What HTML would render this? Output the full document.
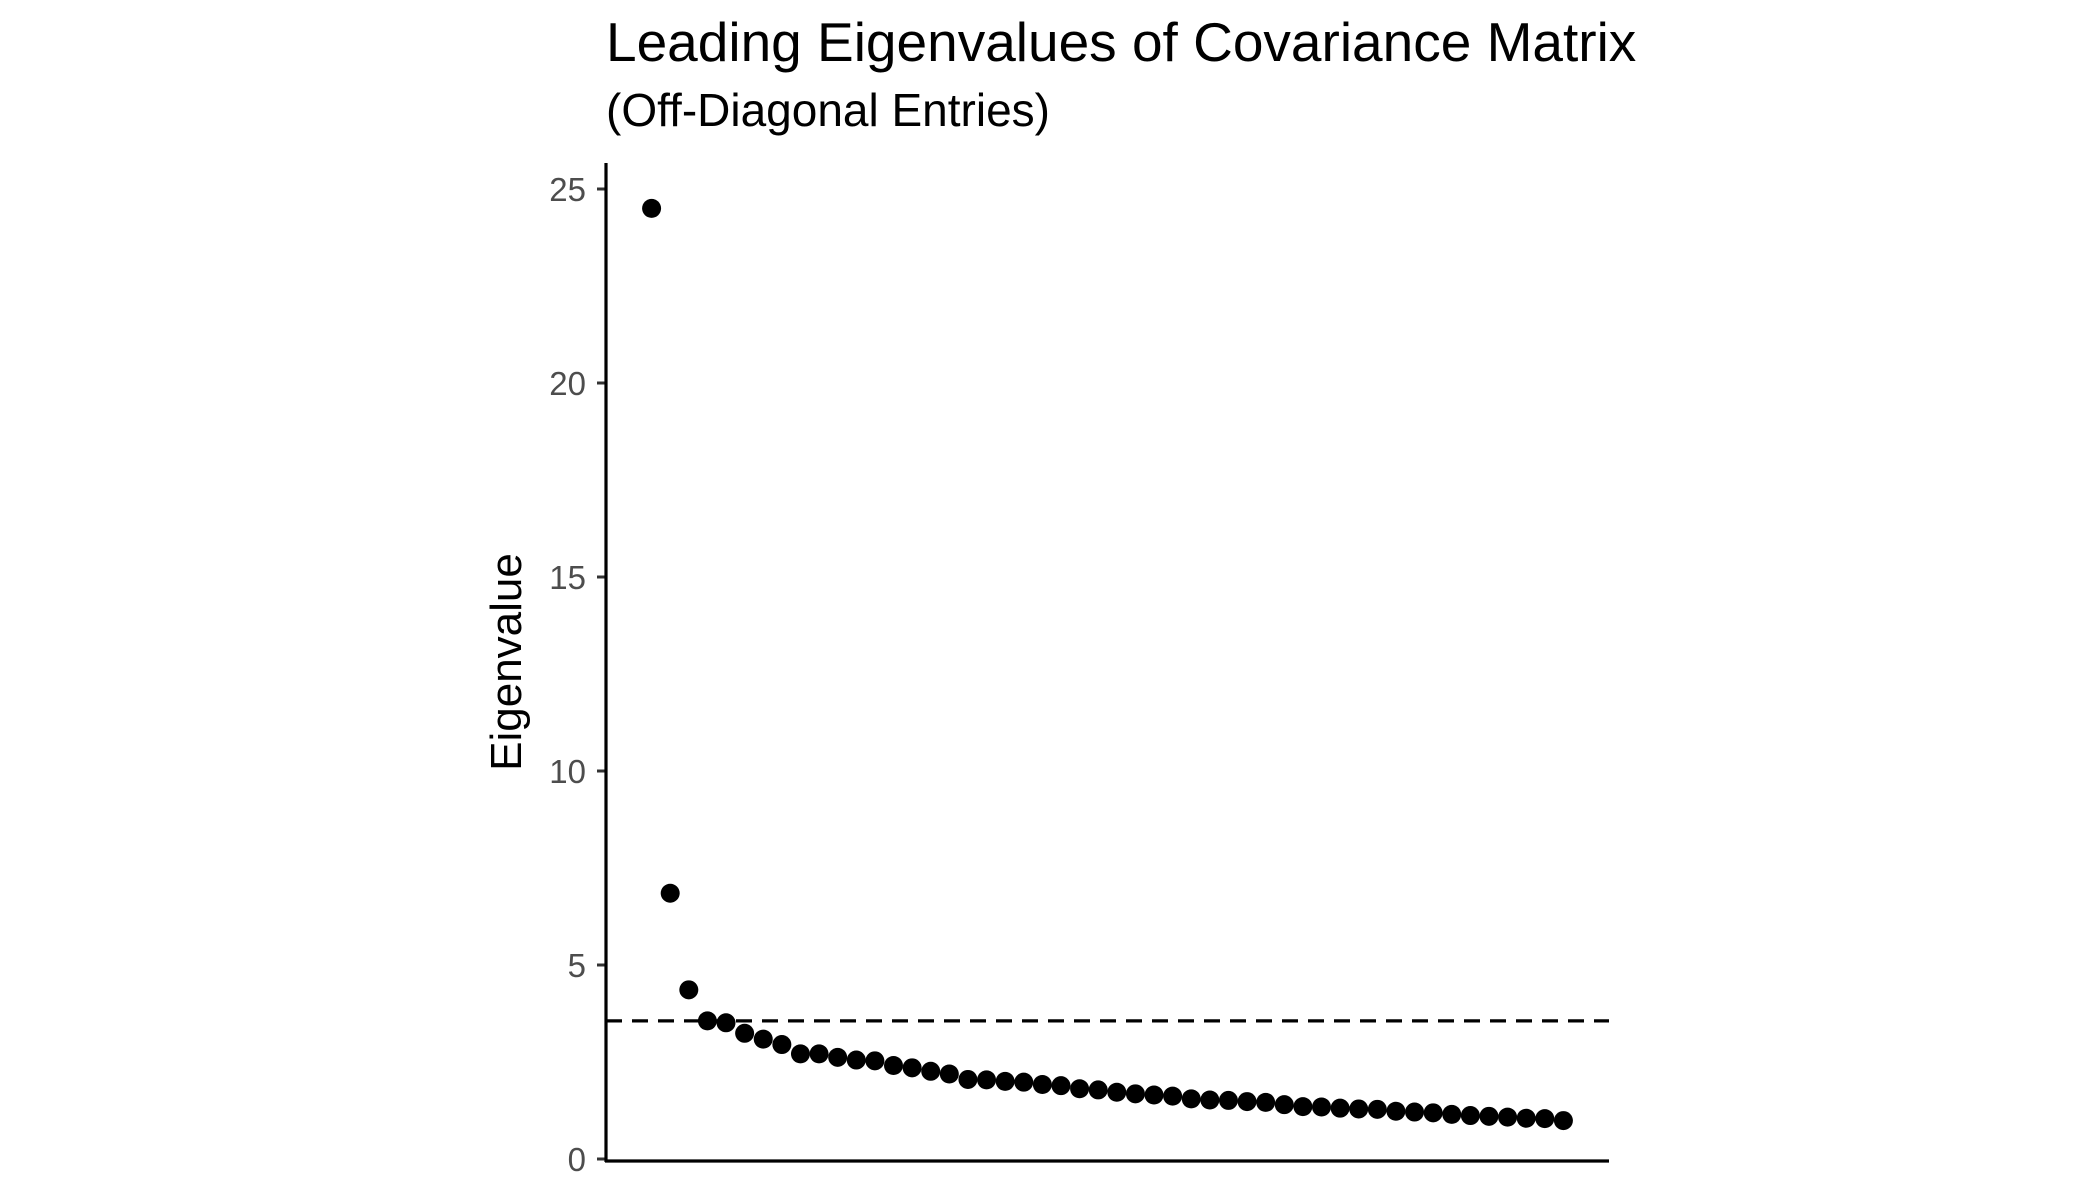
<!DOCTYPE html>
<html><head><meta charset="utf-8"><style>
html,body{margin:0;padding:0;background:#fff;}
svg{display:block;font-family:"Liberation Sans",Arial,sans-serif;}
</style></head><body>
<svg id="chart" width="2100" height="1200" viewBox="0 0 2100 1200" xmlns="http://www.w3.org/2000/svg">
<rect width="2100" height="1200" fill="#fff"/>
<text x="606" y="61" font-size="55" fill="#000">Leading Eigenvalues of Covariance Matrix</text>
<text x="606" y="126" font-size="46" fill="#000">(Off-Diagonal Entries)</text>
<text transform="translate(521,662) rotate(-90)" text-anchor="middle" font-size="44" fill="#000">Eigenvalue</text>
<g id="ticks"></g>
<g id="points"></g>
<line id="thresh" stroke="#000" stroke-width="3.2" stroke-dasharray="16,10"/>
<line x1="606" y1="163" x2="606" y2="1162" stroke="#000" stroke-width="3.2"/>
<line x1="605" y1="1161" x2="1609" y2="1161" stroke="#000" stroke-width="3.2"/>
</svg>
<script>
const eigenvalues = [24.5,6.85,4.36,3.56,3.51,3.24,3.09,2.95,2.71,2.71,2.62,2.55,2.53,2.41,2.35,2.26,2.19,2.05,2.04,2.00,1.98,1.92,1.89,1.81,1.78,1.72,1.68,1.65,1.62,1.55,1.52,1.51,1.48,1.46,1.40,1.35,1.34,1.31,1.29,1.28,1.23,1.21,1.19,1.15,1.12,1.10,1.08,1.05,1.04,0.99];
const yTicks = [0,5,10,15,20,25];
const threshold = [3.56];
const NS="http://www.w3.org/2000/svg";
const y0=1159, yPer=(1159-189)/25;
function yScale(v){return y0 - v*yPer;}
const n=eigenvalues.length;
const xL=606, xR=1609;
const xPer=(xR-xL)/((n-1)*1.1);
function xScale(i){return xL + (n-1)*0.05*xPer + (i-1)*xPer;}
const tg=document.getElementById('ticks');
yTicks.forEach(t=>{
  const l=document.createElementNS(NS,'line');
  l.setAttribute('x1',597);l.setAttribute('x2',606);
  l.setAttribute('y1',yScale(t));l.setAttribute('y2',yScale(t));
  l.setAttribute('stroke','#333');l.setAttribute('stroke-width',3);
  
  
  tg.appendChild(l);
  const tx=document.createElementNS(NS,'text');
  tx.setAttribute('x',586);tx.setAttribute('y',yScale(t)+12);
  tx.setAttribute('text-anchor','end');tx.setAttribute('font-size','33');tx.setAttribute('fill','#4d4d4d');
  tx.textContent=t;
  
  
  tg.appendChild(tx);
});
const pg=document.getElementById('points');
eigenvalues.forEach((v,i)=>{
  const c=document.createElementNS(NS,'circle');
  c.setAttribute('cx',xScale(i+1));c.setAttribute('cy',yScale(v));c.setAttribute('r',9.5);c.setAttribute('fill','#000');
  
  
  pg.appendChild(c);
});
const th=document.getElementById('thresh');
th.setAttribute('x1',xL);th.setAttribute('x2',xR);
th.setAttribute('y1',yScale(threshold[0]));th.setAttribute('y2',yScale(threshold[0]));
</script>
</body></html>
